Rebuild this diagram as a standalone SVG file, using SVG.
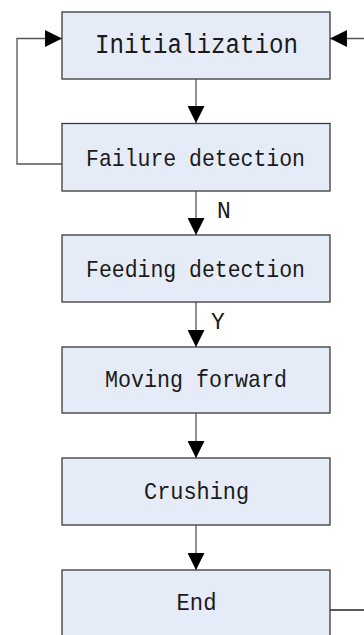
<svg xmlns="http://www.w3.org/2000/svg" width="364" height="635" viewBox="0 0 364 635">
<style>
.box{fill:#E6ECF7;stroke:#3a3a3a;stroke-width:1.3}
.lbl{font-family:"Liberation Mono","DejaVu Sans Mono",monospace;font-size:24px;fill:#1a1a1a;text-anchor:middle}
.yn{font-family:"Liberation Mono","DejaVu Sans Mono",monospace;font-size:23px;fill:#1a1a1a}
.con{fill:none;stroke:#555;stroke-width:1.3}
</style>
<defs>
<marker id="ah" markerUnits="userSpaceOnUse" viewBox="0 0 17 17" refX="17" refY="8.5" markerWidth="17" markerHeight="17" orient="auto">
<path d="M0,0 L17,8.5 L0,17 z" fill="#000"/>
</marker>
</defs>
<g id="connectors">
<line class="con" x1="196" y1="79" x2="196" y2="123" marker-end="url(#ah)"/>
<line class="con" x1="196" y1="191" x2="196" y2="235" marker-end="url(#ah)"/>
<line class="con" x1="196" y1="302" x2="196" y2="347" marker-end="url(#ah)"/>
<line class="con" x1="196" y1="413" x2="196" y2="458" marker-end="url(#ah)"/>
<line class="con" x1="196" y1="525" x2="196" y2="570" marker-end="url(#ah)"/>
<polyline class="con" points="62,164 17,164 17,38.5 62,38.5" marker-end="url(#ah)"/>
<line class="con" x1="364" y1="38.5" x2="330" y2="38.5" marker-end="url(#ah)"/>
<line class="con" x1="330" y1="610" x2="364" y2="610" style="stroke:#222"/>
<text class="yn" x="217" y="218">N</text>
<text class="yn" x="211" y="329">Y</text>
</g>
<g id="n1"><rect class="box" x="62" y="12" width="268" height="67"/><text class="lbl" x="196.5" y="53" font-size="27" textLength="203" lengthAdjust="spacingAndGlyphs" style="font-size:27px">Initialization</text></g>
<g id="n2"><rect class="box" x="62" y="123.5" width="268" height="67.5"/><text class="lbl" x="195.5" y="165.5" textLength="219" lengthAdjust="spacingAndGlyphs">Failure detection</text></g>
<g id="n3"><rect class="box" x="62" y="235" width="268" height="67"/><text class="lbl" x="195.5" y="276.5" textLength="219" lengthAdjust="spacingAndGlyphs">Feeding detection</text></g>
<g id="n4"><rect class="box" x="62" y="347" width="268" height="66"/><text class="lbl" x="196" y="387" textLength="182" lengthAdjust="spacingAndGlyphs">Moving forward</text></g>
<g id="n5"><rect class="box" x="62" y="458" width="268" height="67"/><text class="lbl" x="196.5" y="499" textLength="105" lengthAdjust="spacingAndGlyphs">Crushing</text></g>
<g id="n6"><rect class="box" x="62" y="570" width="268" height="68"/><text class="lbl" x="196.5" y="610" textLength="40" lengthAdjust="spacingAndGlyphs">End</text></g>
</svg>
